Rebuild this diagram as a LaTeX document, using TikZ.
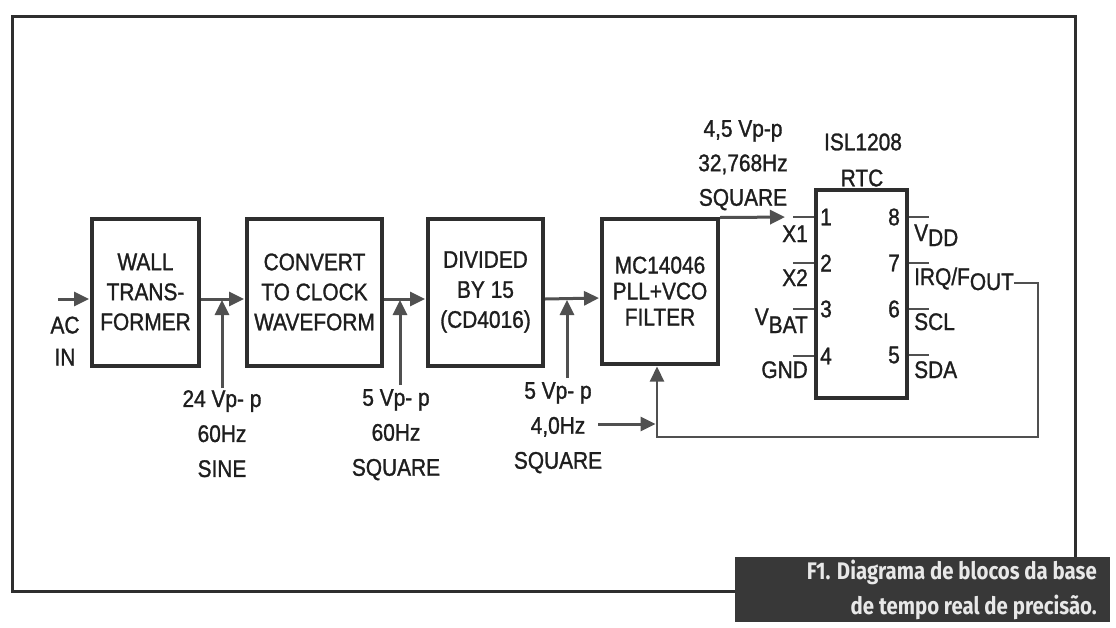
\documentclass[tikz,border=0pt]{standalone}
\usepackage{fontspec}
\setmainfont{Liberation Sans}[FakeStretch=0.87, BoldFont={Liberation Sans}, BoldFeatures={FakeBold=1.2}]
\newfontfamily\capfont{Fira Sans}[FakeStretch=0.85]
\usetikzlibrary{arrows.meta}
\definecolor{boxc}{HTML}{2E2E2E}
\definecolor{arrc}{HTML}{505050}
\definecolor{txtc}{HTML}{1E1E1E}
\definecolor{capbg}{HTML}{383838}
\definecolor{capfg}{HTML}{E8E8E8}
\newcommand\lo[2][5pt]{\raisebox{-#1}{#2}}
\begin{document}
\begin{tikzpicture}[x=1pt,y=-1pt,
  every node/.style={text=txtc},
  block/.style={draw=boxc, line width=4pt, minimum height=147pt, align=center, inner sep=0pt,
    font=\bfseries\fontsize{24}{30}\selectfont},
  lab/.style={align=center, inner sep=0pt, font=\bfseries\fontsize{24}{35}\selectfont},
  txt/.style={inner sep=0pt, font=\bfseries\fontsize{24}{28}\selectfont},
  arr/.style={draw=arrc, line width=3pt, -{Triangle[length=15pt,width=14pt]}},
  thin/.style={draw=arrc, line width=2.2pt},
  stub/.style={draw=arrc, line width=2.2pt},
  frame/.style={draw=boxc, line width=3pt}]
\useasboundingbox (0,0) rectangle (1116,627);
\fill[white] (0,0) rectangle (1116,627);
% outer frame
\draw[frame] (12,16) rectangle (1075,591);

% blocks
\node[block, minimum width=107pt] (wall) at (145.5,292) {WALL\\TRANS-\\FORMER};
\node[block, minimum width=135pt] (conv) at (314.5,292) {CONVERT\\TO CLOCK\\WAVEFORM};
\node[block, minimum width=115pt] (div) at (485.5,292) {DIVIDED\\BY 15\\(CD4016)};
\node[block, minimum width=116pt, minimum height=145pt, font=\bfseries\fontsize{24}{26}\selectfont] (mc) at (660,291) {MC14046\\PLL+VCO\\FILTER};

% main signal arrows
\coordinate (acin) at (58,299);
\node[lab, font=\bfseries\fontsize{24}{32}\selectfont] (ac) at (65,341) {AC\\IN};
\draw[arr, shorten >=1pt] (acin) -- ([yshift=-7pt]wall.west);
\draw[arr, shorten >=1pt] ([yshift=-7pt]wall.east) coordinate (w1) -- ([yshift=-7pt]conv.west);
\draw[arr, shorten >=1pt] ([yshift=-7pt]conv.east) coordinate (c1) -- ([yshift=-7pt]div.west);
\draw[arr, shorten >=1pt] ([yshift=-7pt]div.east) coordinate (d1) -- ([yshift=-7pt]mc.west);

% signal labels with arrows
\node[lab, anchor=north] (l1) at (222,390) {24 Vp- p\\60Hz\\SINE};
\draw[arr, shorten >=1pt] ([yshift=2pt]l1.north) -- (l1.north |- w1);
\node[lab, anchor=north] (l2) at (396,389) {5 Vp- p\\60Hz\\SQUARE};
\draw[arr, shorten >=1pt] ([xshift=4pt,yshift=4pt]l2.north) -- ([xshift=4pt]l2.north |- c1);
\node[lab, anchor=north] (l3) at (558,382) {5 Vp- p\\4,0Hz\\SQUARE};
\draw[arr, shorten >=1pt] ([xshift=9pt,yshift=4pt]l3.north) -- ([xshift=9pt]l3.north |- d1);

% RTC chip
\node[draw=boxc, line width=4pt, minimum width=91pt, minimum height=208pt, inner sep=0pt] (rtc) at (861.5,294) {};
\node[txt] (isl) at (863,142) {ISL1208};
\node[txt] (rtcl) at (862,178) {RTC};

% pins left
\foreach \n/\dy in {1/29,2/75,3/121,4/168}{
  \draw[stub] ([yshift=-\dy pt]rtc.north west) coordinate (L\n) -- ++(-21,0) coordinate (X\n);
  \node[txt] (n\n) at ([xshift=12pt]L\n) {\n};
}
% pins right
\foreach \n/\dy in {8/29,7/75,6/121,5/167}{
  \draw[stub] ([yshift=-\dy pt]rtc.north east) coordinate (R\n) -- ++(20,0) coordinate (Y\n);
  \node[txt] (n\n) at ([xshift=-15pt]R\n) {\n};
}
\node[txt, anchor=base east] (px1) at ([xshift=-6pt,yshift=-25pt]L1) {X1};
\node[txt, anchor=base east] (px2) at ([xshift=-6pt,yshift=-23pt]L2) {X2};
\node[txt, anchor=base east] (pvb) at ([xshift=-6pt,yshift=-16pt]L3) {V\lo[8pt]{BAT}};
\node[txt, anchor=base east] (pgnd) at ([xshift=-6pt,yshift=-22pt]L4) {GND};
\node[txt, anchor=base west] (pvdd) at ([xshift=5pt,yshift=-24pt]R8) {V\lo{DD}};
\node[txt, anchor=base west] (irq) at ([xshift=5pt,yshift=-22pt]R7) {IRQ/F\lo{OUT}};
\node[txt, anchor=base west] (pscl) at ([xshift=5pt,yshift=-21pt]R6) {SCL};
\node[txt, anchor=base west] (psda) at ([xshift=5pt,yshift=-23pt]R5) {SDA};

% output to RTC X1
\node[lab, anchor=north, font=\bfseries\fontsize{24}{34.5}\selectfont] (top) at (743,120) {4,5 Vp-p\\32,768Hz\\SQUARE};
\draw[arr, shorten >=8pt] ([yshift=-1pt]mc.north east) -- (X1);

% feedback loop
\coordinate (fbR) at (1038,437);
\coordinate (fbL) at (657,437);
\draw[thin, -{Triangle[length=15pt,width=14pt]}, shorten >=1pt] ([yshift=2pt]irq.base east) -| (fbR) -- (fbL) -- (fbL |- mc.south);
\coordinate (fin) at (598,424);
\draw[arr, shorten >=1.5pt] (fin) -- (fin -| fbL);

% caption
\node[fill=capbg, minimum width=375pt, minimum height=65pt, anchor=north west, inner sep=0pt] (cap) at (735,557) {};
\node[anchor=east, align=right, inner sep=0pt, text=capfg, font=\capfont\bfseries\fontsize{24}{35}\selectfont] (capt) at (1097,590) {F1. Diagrama de blocos da base\\de tempo real de precisão.};
\end{tikzpicture}
\end{document}
